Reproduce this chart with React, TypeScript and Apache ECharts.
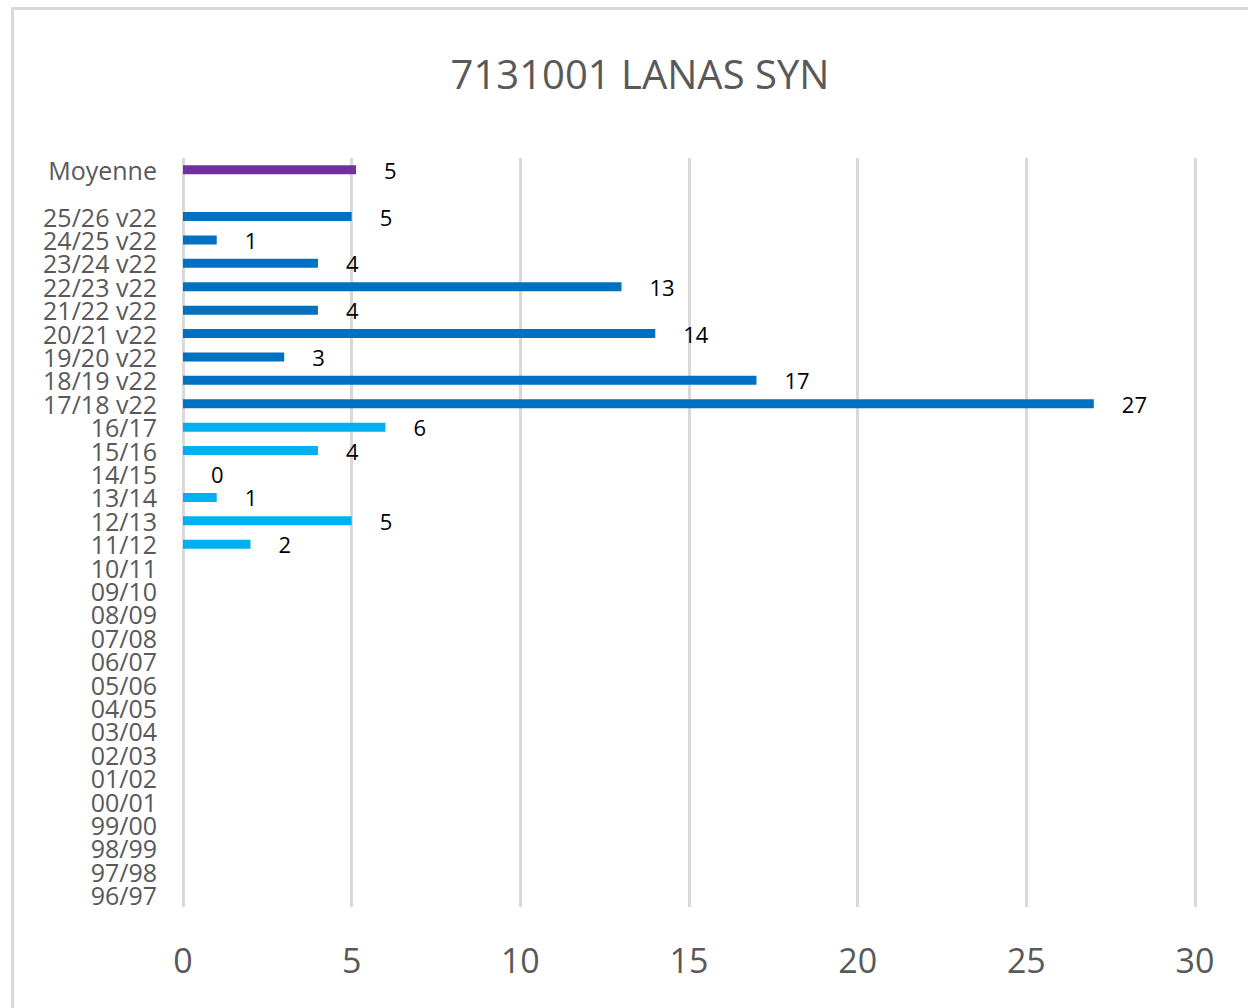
import React, { useEffect, useRef } from "react";
import * as echarts from "echarts";

const TITLE = "7131001 LANAS SYN";

const categories: string[] = [
  "Moyenne", "",
  "25/26 v22", "24/25 v22", "23/24 v22", "22/23 v22", "21/22 v22", "20/21 v22", "19/20 v22", "18/19 v22", "17/18 v22",
  "16/17", "15/16", "14/15", "13/14", "12/13", "11/12", "10/11", "09/10", "08/09", "07/08", "06/07", "05/06",
  "04/05", "03/04", "02/03", "01/02", "00/01", "99/00", "98/99", "97/98", "96/97",
];

const moyenne: number[] = [5.13];
const v22Values: number[] = [5, 1, 4, 13, 4, 14, 3, 17, 27];
const oldValues: (number | null)[] = [6, 4, 0, 1, 5, 2, null, null, null, null, null, null, null, null, null, null, null, null, null, null, null];

const xTicks = { min: 0, max: 30, interval: 5 };

const COLOR_MOY = "#7030A0";
const COLOR_V22 = "#0070C0";
const COLOR_OLD = "#00B0F0";

export default function App() {
  const ref = useRef<HTMLDivElement>(null);
  useEffect(() => {
    if (!ref.current) return;
    const chart = echarts.init(ref.current, undefined, { renderer: "svg" });
    const data: any[] = [];
    moyenne.forEach((v) => data.push({ value: v, itemStyle: { color: COLOR_MOY } }));
    data.push({ value: null });
    v22Values.forEach((v) => data.push({ value: v, itemStyle: { color: COLOR_V22 } }));
    oldValues.forEach((v) => data.push({ value: v, itemStyle: { color: COLOR_OLD } }));

    const font = "'Open Sans', sans-serif";
    chart.setOption({
      animation: false,
      backgroundColor: "#ffffff",
      grid: { left: 183, right: 53, top: 158, bottom: 101, containLabel: false },
      graphic: [
        {
          type: "rect",
          shape: { x: 12.5, y: 8.5, width: 1300, height: 1100 },
          style: { fill: "none", stroke: "#D9D9D9", lineWidth: 3 },
          silent: true,
        },
        {
          type: "text",
          x: 640,
          y: 73,
          style: {
            text: TITLE,
            fontFamily: font,
            fontSize: 40,
            fill: "#595959",
            textAlign: "center",
            textVerticalAlign: "middle",
          },
        },
      ],
      xAxis: {
        type: "value",
        min: xTicks.min,
        max: xTicks.max,
        interval: xTicks.interval,
        axisLine: { show: false },
        axisTick: { show: false },
        splitLine: { show: true, lineStyle: { color: "#D9D9D9", width: 3 } },
        axisLabel: { color: "#595959", fontSize: 34, fontFamily: font, margin: 36 },
      },
      yAxis: {
        type: "category",
        inverse: true,
        data: categories,
        axisLine: { show: false },
        axisTick: { show: false },
        axisLabel: { color: "#595959", fontSize: 25, lineHeight: 22, fontFamily: font, margin: 26, interval: 0 },
      },
      series: [
        {
          type: "bar",
          data,
          barWidth: 9,
          label: {
            show: true,
            position: "right",
            distance: 28,
            color: "#000000",
            fontSize: 22,
            fontFamily: font,
            formatter: (p: any) => (p.value === null || p.value === undefined ? "" : String(Math.round(p.value))),
          },
        },
      ],
    });
    return () => chart.dispose();
  }, []);
  return <div ref={ref} style={{ position: "fixed", left: 0, top: 0, width: 1248, height: 1008 }} />;
}
